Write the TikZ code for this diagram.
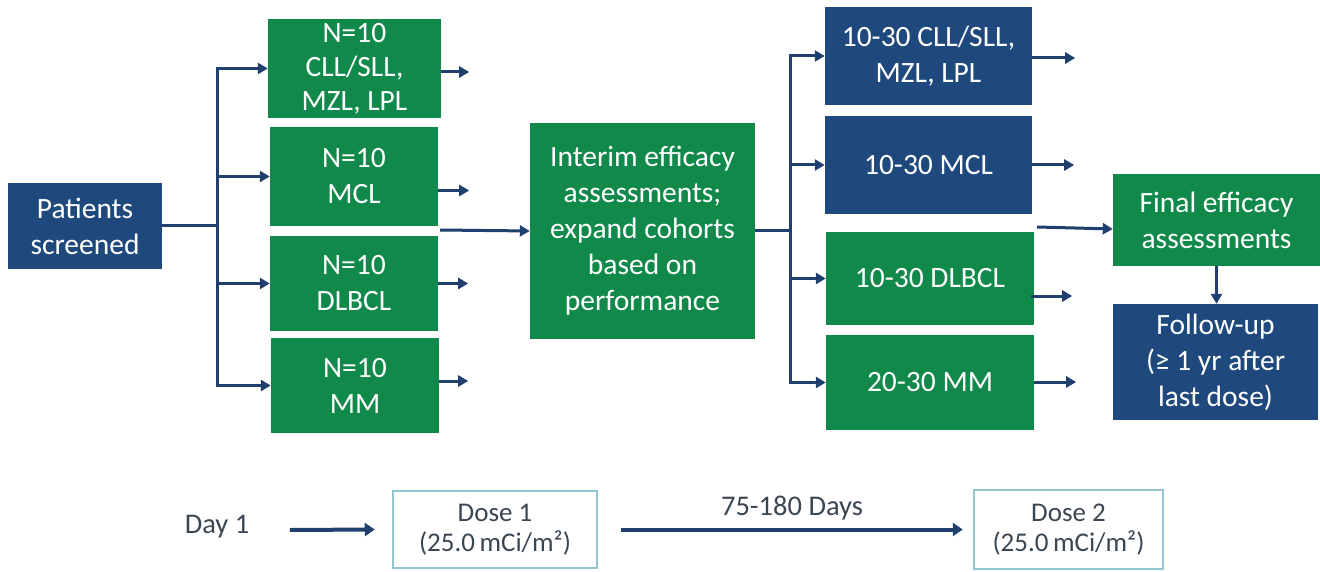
\documentclass[tikz,border=0pt]{standalone}
\usepackage{fontspec}
\setmainfont{Carlito}
\usetikzlibrary{arrows.meta}
\definecolor{navy}{HTML}{1F497D}
\definecolor{grn}{HTML}{11894B}
\definecolor{lnc}{HTML}{1F3F6E}
\definecolor{teal}{HTML}{92C5D0}
\definecolor{txt}{HTML}{3B4653}
\begin{document}
\begin{tikzpicture}[x=1pt,y=-1pt,
  boxbase/.style={rectangle,inner sep=0pt,align=center,text=white,
    font=\fontsize{29.5}{36}\selectfont},
  gbox/.style={boxbase,fill=grn},
  bbox/.style={boxbase,fill=navy},
  dosebox/.style={rectangle,inner sep=0pt,align=center,text=txt,draw=teal,line width=2.5pt,
    font=\fontsize{27}{30}\selectfont},
  plain/.style={text=txt,font=\fontsize{28.5}{30}\selectfont},
  ln/.style={draw=lnc,line width=3pt},
  arr/.style={draw=lnc,line width=3pt,-{Triangle[length=10pt,width=11pt]}},
  barr/.style={draw=lnc,line width=4pt,-{Triangle[length=10pt,width=13pt]}}]
\useasboundingbox (0,0) rectangle (1320,572);
% left
\node[bbox,minimum width=154pt,minimum height=86pt] (ps) at (85,226) {Patients\\screened};
\node[gbox,minimum width=173pt,minimum height=99pt,font=\fontsize{29.5}{34}\selectfont] (L1) at (354.5,68.5) {N=10\\CLL/SLL,\\MZL, LPL};
\node[gbox,minimum width=168pt,minimum height=99pt] (L2) at (354,176.5) {N=10\\MCL};
\node[gbox,minimum width=168pt,minimum height=95pt] (L3) at (354,283.5) {N=10\\DLBCL};
\node[gbox,minimum width=168pt,minimum height=95pt] (L4) at (355,385.5) {N=10\\MM};
% middle
\node[gbox,minimum width=225pt,minimum height=216pt] (IM) at (642.5,231) {Interim efficacy\\assessments;\\expand cohorts\\based on\\performance};
% right
\node[bbox,minimum width=207pt,minimum height=98pt] (R1) at (928.5,56) {10-30 CLL/SLL,\\MZL, LPL};
\node[bbox,minimum width=207pt,minimum height=98pt] (R2) at (928.5,165) {10-30 MCL};
\node[gbox,minimum width=208pt,minimum height=93pt] (R3) at (930,278.5) {10-30 DLBCL};
\node[gbox,minimum width=208pt,minimum height=95pt] (R4) at (930,382.5) {20-30 MM};
\node[gbox,minimum width=207pt,minimum height=92pt] (FE) at (1216.5,220) {Final efficacy\\assessments};
\node[bbox,minimum width=205pt,minimum height=116pt] (FU) at (1215.5,362) {Follow-up\\(≥ 1 yr after\\last dose)};
% bottom
\node[plain] (day) at (217,527) {Day 1};
\node[dosebox,minimum width=204pt,minimum height=77pt] (D1) at (495,529.5) {Dose 1\\(25.0\,mCi/m²)};
\node[dosebox,minimum width=189pt,minimum height=79pt] (D2) at (1068.5,529.5) {Dose 2\\(25.0\,mCi/m²)};

% left fan
\coordinate (jL) at (217,226);
\draw[ln] (ps.east) -- (jL);
\foreach \n in {L1,L2,L3,L4} \draw[arr] (jL) |- (\n.west);
% small outgoing arrows (left)
\draw[arr] ([yshift=-3.5pt]L1.east) -- ++(28,0);
\draw[arr] ([yshift=-14pt]L2.east) -- ++(31,0);
\draw[arr] (L3.east) -- ++(30,0);
\draw[arr] ([yshift=4.5pt]L4.east) -- ++(29,0);
% into interim
\coordinate (gap) at (440,230);
\draw[arr] (gap) -- (IM.west);
% right fan
\coordinate (jR) at (790,231);
\draw[ln] (IM.east) -- (jR);
\foreach \n in {R1,R2,R3,R4} \draw[arr] (jR) |- (\n.west);
% small outgoing arrows (right)
\draw[arr] ([yshift=-2pt]R1.east) -- ++(43,0);
\draw[arr] (R2.east) -- ++(42,0);
\draw[arr] ([xshift=-3pt,yshift=-17.5pt]R3.east) -- ++(41,0);
\draw[arr] ([yshift=0.5pt]R4.east) -- ++(42,0);
% into final
\coordinate (rgap) at (1037,227);
\draw[arr] (rgap) -- ([yshift=-9pt]FE.west);
\draw[arr] (FE.south) -- (FE.south |- FU.north);
% bottom arrows
\draw[barr] ([xshift=37pt,yshift=-3pt]day.east) -- ([xshift=-17pt]D1.west);
\draw[barr] ([xshift=23pt]D1.east) -- node[plain,above=4pt] {75-180 Days} ([xshift=-10pt]D2.west);
\end{tikzpicture}
\end{document}
